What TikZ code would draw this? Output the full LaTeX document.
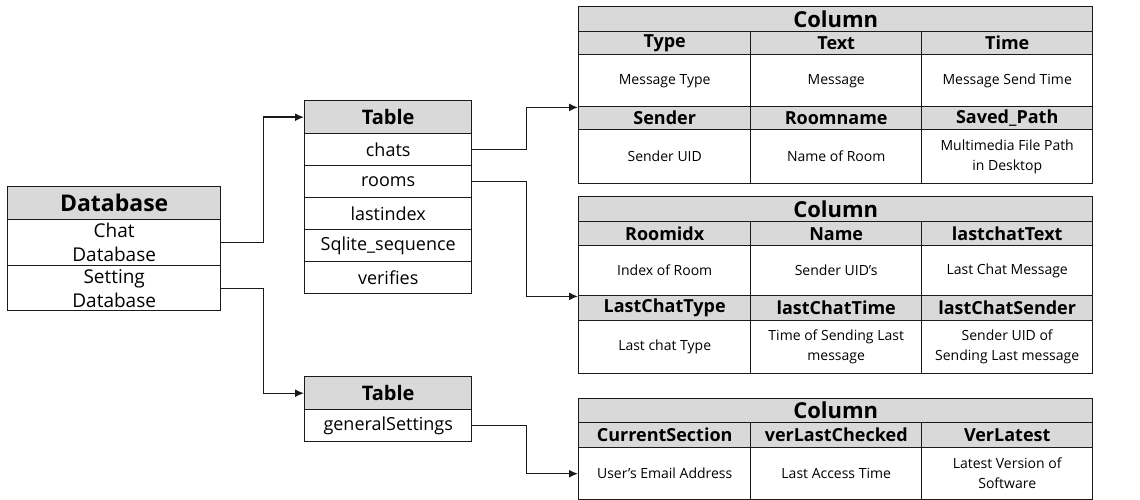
\documentclass[tikz,border=0pt]{standalone}
\usepackage{fontspec}
\setmainfont{Open Sans}
\usetikzlibrary{arrows.meta}
\definecolor{hdrgray}{HTML}{D9D9D9}
\definecolor{linec}{HTML}{1A1A1A}
\tikzset{
  box/.style={draw=linec, line width=1.4pt, inner sep=0pt, anchor=north west, align=center},
  hdr/.style={box, fill=hdrgray},
  cell/.style={box, fill=white},
  dbh/.style={font={\fontsize{23}{27}\selectfont\bfseries}},
  bigh/.style={font={\fontsize{22}{26}\selectfont\bfseries}},
  tabh/.style={font={\fontsize{20}{24}\selectfont\bfseries}},
  colh/.style={font={\fontsize{18}{21}\selectfont\bfseries}},
  dbrow/.style={font={\fontsize{19}{24}\selectfont}},
  tabrow/.style={font={\fontsize{18}{22}\selectfont}},
  datac/.style={font={\fontsize{14}{20}\selectfont}},
  conn/.style={draw=linec, line width=1.4pt, -{Latex[length=9pt,width=8pt]}}
}
\begin{document}
\begin{tikzpicture}[x=1pt,y=-1pt]
\useasboundingbox (0,0) rectangle (1140,500);
% Database
\node[hdr, dbh, minimum width=213, minimum height=33] (db) at (7,186) {Database};
\node[cell, dbrow, minimum width=213, minimum height=46] (chatdb) at (7,219) {Chat\\Database};
\node[cell, dbrow, minimum width=213, minimum height=45] (setdb) at (7,265) {Setting\\Database};
% Table 1
\node[hdr, tabh, minimum width=167, minimum height=33] (t1h) at (304,100) {Table};
\node[cell, tabrow, minimum width=167, minimum height=32] (chats) at (304,133) {chats};
\node[cell, tabrow, minimum width=167, minimum height=32] (rooms) at (304,165) {rooms};
\node[cell, tabrow, minimum width=167, minimum height=32] (lastindex) at (304,197) {lastindex};
\node[cell, tabrow, minimum width=167, minimum height=32] (sqlite) at (304,229) {Sqlite\_sequence};
\node[cell, tabrow, minimum width=167, minimum height=32] (verifies) at (304,261) {verifies};
% Table 2
\node[hdr, tabh, minimum width=167, minimum height=33] (t2h) at (304,376) {Table};
\node[cell, tabrow, minimum width=167, minimum height=32] (gs) at (304,409) {generalSettings};
% Column 1
\node[hdr, bigh, minimum width=514, minimum height=25] (c1h) at (578,6) {Column};
\node[hdr, colh, minimum width=172, minimum height=23] (c1a) at (578,31) {Type};
\node[hdr, colh, minimum width=171, minimum height=23] (c1b) at (750,31) {Text};
\node[hdr, colh, minimum width=171, minimum height=23] (c1c) at (921,31) {Time};
\node[cell, datac, minimum width=172, minimum height=52] (c1ad) at (578,54) {Message Type};
\node[cell, datac, minimum width=171, minimum height=52] (c1bd) at (750,54) {Message};
\node[cell, datac, minimum width=171, minimum height=52] (c1cd) at (921,54) {Message Send Time};
\node[hdr, colh, minimum width=172, minimum height=23] (c1e) at (578,106) {Sender};
\node[hdr, colh, minimum width=171, minimum height=23] (c1f) at (750,106) {Roomname};
\node[hdr, colh, minimum width=171, minimum height=23] (c1g) at (921,106) {Saved\_Path};
\node[cell, datac, minimum width=172, minimum height=54] (c1ed) at (578,129) {Sender UID};
\node[cell, datac, minimum width=171, minimum height=54] (c1fd) at (750,129) {Name of Room};
\node[cell, datac, minimum width=171, minimum height=54] (c1gd) at (921,129) {Multimedia File Path\\in Desktop};
% Column 2
\node[hdr, bigh, minimum width=514, minimum height=25] (c2h) at (578,196) {Column};
\node[hdr, colh, minimum width=172, minimum height=24] (c2a) at (578,221) {Roomidx};
\node[hdr, colh, minimum width=171, minimum height=24] (c2b) at (750,221) {Name};
\node[hdr, colh, minimum width=171, minimum height=24] (c2c) at (921,221) {lastchatText};
\node[cell, datac, minimum width=172, minimum height=50] (c2ad) at (578,245) {Index of Room};
\node[cell, datac, minimum width=171, minimum height=50] (c2bd) at (750,245) {Sender UID’s};
\node[cell, datac, minimum width=171, minimum height=50] (c2cd) at (921,245) {Last Chat Message};
\node[hdr, colh, minimum width=172, minimum height=25] (c2e) at (578,295) {LastChatType};
\node[hdr, colh, minimum width=171, minimum height=25] (c2f) at (750,295) {lastChatTime};
\node[hdr, colh, minimum width=171, minimum height=25] (c2g) at (921,295) {lastChatSender};
\node[cell, datac, minimum width=172, minimum height=53] (c2ed) at (578,320) {Last chat Type};
\node[cell, datac, minimum width=171, minimum height=53] (c2fd) at (750,320) {Time of Sending Last\\message};
\node[cell, datac, minimum width=171, minimum height=53] (c2gd) at (921,320) {Sender UID of\\Sending Last message};
% Column 3
\node[hdr, bigh, minimum width=514, minimum height=24] (c3h) at (578,398) {Column};
\node[hdr, colh, minimum width=172, minimum height=25] (c3a) at (578,422) {CurrentSection};
\node[hdr, colh, minimum width=171, minimum height=25] (c3b) at (750,422) {verLastChecked};
\node[hdr, colh, minimum width=171, minimum height=25] (c3c) at (921,422) {VerLatest};
\node[cell, datac, minimum width=172, minimum height=52] (c3ad) at (578,447) {User’s Email Address};
\node[cell, datac, minimum width=171, minimum height=52] (c3bd) at (750,447) {Last Access Time};
\node[cell, datac, minimum width=171, minimum height=52] (c3cd) at (921,447) {Latest Version of\\Software};
% Connectors
\draw[conn] (chatdb.east) -- ++(42,0) |- (t1h.west);
\draw[conn] (setdb.east) -- ++(42,0) |- (t2h.west);
\draw[conn] (chats.east) -- ++(54,0) |- (c1ad.south west);
\draw[conn] (rooms.east) -- ++(54,0) |- (c2ad.south west);
\draw[conn] (gs.east) -- ++(54,0) |- (c3ad.west);
\end{tikzpicture}
\end{document}
